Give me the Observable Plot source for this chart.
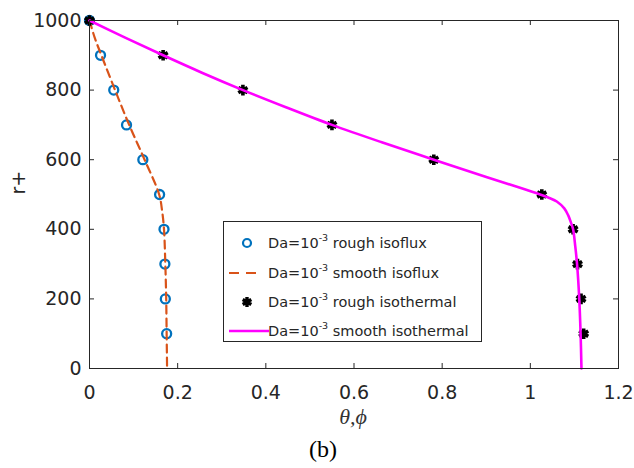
<!DOCTYPE html>
<html>
<head>
<meta charset="utf-8">
<script src="https://cdn.jsdelivr.net/npm/d3@7"></script>
<script src="https://cdn.jsdelivr.net/npm/@observablehq/plot@0.6"></script>
<style>
  html, body { margin: 0; padding: 0; background: #fff; }
  #wrap { position: relative; width: 634px; height: 468px; }
  #legend { position: absolute; left: 223px; top: 221px; width: 259px; height: 121px;
    border: 1px solid #262626; background: #fff; font-family: "DejaVu Sans", sans-serif;
    font-size: 14.5px; color: #262626; box-sizing: border-box; }
  .row { position: absolute; left: 0; height: 20px; width: 100%; }
  .row svg { position: absolute; left: 3px; top: 0; }
  .row span { position: absolute; left: 44px; top: 1px; white-space: nowrap; line-height: 18px; }
  sup { font-size: 9.5px; vertical-align: 7px; line-height: 0; }
</style>
</head>
<body>
<div id="wrap"></div>
<script>
// ---- data ----
const xTicks = [0, 0.2, 0.4, 0.6, 0.8, 1, 1.2];
const yTicks = [0, 200, 400, 600, 800, 1000];

// rough isoflux (circles)
const roughIsofluxR     = [1000, 900, 800, 700, 600, 500, 400, 300, 200, 100];
const roughIsofluxTheta = [0, 0.025, 0.055, 0.084, 0.121, 0.159, 0.169, 0.171, 0.172, 0.175];

// smooth isoflux (dashed)
const smoothIsofluxR     = [1000, 950, 900, 800, 700, 600, 500, 450, 400, 300, 200, 100, 0];
const smoothIsofluxTheta = [0, 0.012, 0.027, 0.058, 0.090, 0.125, 0.158, 0.165, 0.169, 0.172, 0.174, 0.175, 0.176];

// rough isothermal (asterisks)
const roughIsothermalR     = [1000, 900, 800, 700, 600, 500, 400, 300, 200, 100];
const roughIsothermalTheta = [0, 0.167, 0.348, 0.550, 0.781, 1.026, 1.097, 1.107, 1.115, 1.121];

// smooth isothermal (solid magenta)
const smoothIsothermalR     = [1000, 950, 900, 850, 800, 750, 700, 650, 600, 550, 520, 500, 490, 480, 460, 440, 420, 400, 350, 300, 200, 100, 0];
const smoothIsothermalTheta = [0, 0.082, 0.167, 0.255, 0.348, 0.447, 0.550, 0.663, 0.781, 0.900, 0.975, 1.022, 1.043, 1.060, 1.077, 1.086, 1.092, 1.097, 1.102, 1.106, 1.111, 1.114, 1.116];

const legendLabels = ["rough isoflux", "smooth isoflux", "rough isothermal", "smooth isothermal"];

const zip = (xs, ys) => xs.map((x, i) => ({x, y: ys[i]}));
const roughIsoflux = zip(roughIsofluxTheta, roughIsofluxR);
const smoothIsoflux = zip(smoothIsofluxTheta, smoothIsofluxR);
const roughIsothermal = zip(roughIsothermalTheta, roughIsothermalR);
const smoothIsothermal = zip(smoothIsothermalTheta, smoothIsothermalR);

const W = 634, H = 468, ML = 89, MR = 16, MT = 20, MB = 100;
const FW = W - ML - MR, FH = H - MT - MB, TL = 5;
const axisColor = "#262626";

const chart = Plot.plot({
  width: W, height: H,
  marginLeft: ML, marginRight: MR, marginTop: MT, marginBottom: MB,
  x: {domain: [0, 1.2]},
  y: {domain: [0, 1000]},
  style: {fontFamily: "DejaVu Sans, sans-serif", fontSize: "19px", color: axisColor, background: "#fff"},
  marks: [
    Plot.axisX(xTicks, {tickSize: 0, tickPadding: 17, label: null, tickFormat: d => String(d), fill: axisColor}),
    Plot.axisY(yTicks, {tickSize: 0, tickPadding: 8, label: null, tickFormat: d => String(d), fill: axisColor}),
    Plot.tickX(xTicks, {x: d => d, insetTop: FH - TL, stroke: axisColor}),
    Plot.tickX(xTicks, {x: d => d, insetBottom: FH - TL, stroke: axisColor}),
    Plot.tickY(yTicks, {y: d => d, insetRight: FW - TL, stroke: axisColor}),
    Plot.tickY(yTicks, {y: d => d, insetLeft: FW - TL, stroke: axisColor}),
    Plot.dot(roughIsoflux, {x: "x", y: "y", r: 4.5, stroke: "#0072BD", strokeWidth: 2.3, fill: "none"}),
    Plot.line(smoothIsoflux, {x: "x", y: "y", stroke: "#D95319", strokeWidth: 2.2, strokeDasharray: "8,5", curve: "catmull-rom"}),
    Plot.dot(roughIsothermal, {x: "x", y: "y", symbol: "asterisk", r: 5, stroke: "#000", strokeWidth: 3.6}),
    Plot.line(smoothIsothermal, {x: "x", y: "y", stroke: "#FF00FF", strokeWidth: 2.6, curve: "catmull-rom"}),
    Plot.frame({stroke: axisColor}),
    Plot.text(["r+"], {frameAnchor: "left", dx: -71, rotate: -90, fontSize: 19, fill: axisColor}),
    Plot.text(["θ,ϕ"], {frameAnchor: "bottom", dy: 55, dx: -1, fontSize: 22, fontStyle: "italic", fontFamily: "Liberation Serif, serif", fill: "#333"}),
    Plot.text(["(b)"], {frameAnchor: "bottom", dy: 88, dx: -31, fontSize: 24, fontFamily: "Liberation Serif, serif", fill: "#000"})
  ]
});

const wrap = document.getElementById("wrap");
wrap.appendChild(chart);

// legend
const legend = document.createElement("div");
legend.id = "legend";
const symbols = [
  `<svg width="40" height="20"><circle cx="20" cy="10" r="4" fill="none" stroke="#0072BD" stroke-width="2.2"/></svg>`,
  `<svg width="40" height="20"><line x1="2" y1="10" x2="36" y2="10" stroke="#D95319" stroke-width="2.2" stroke-dasharray="10,7"/></svg>`,
  `<svg width="40" height="20"><path d="M20,5V15M15.7,7.5L24.3,12.5M15.7,12.5L24.3,7.5" stroke="#000" stroke-width="3.4"/></svg>`,
  `<svg width="42" height="20"><line x1="2" y1="10" x2="42" y2="10" stroke="#FF00FF" stroke-width="2.6"/></svg>`
];
const tops = [11, 41, 70, 99];
legendLabels.forEach((lab, i) => {
  const row = document.createElement("div");
  row.className = "row";
  row.style.top = tops[i] + "px";
  row.innerHTML = symbols[i] + `<span>Da=10<sup>-3</sup> ${lab}</span>`;
  legend.appendChild(row);
});
wrap.appendChild(legend);
</script>
</body>
</html>
